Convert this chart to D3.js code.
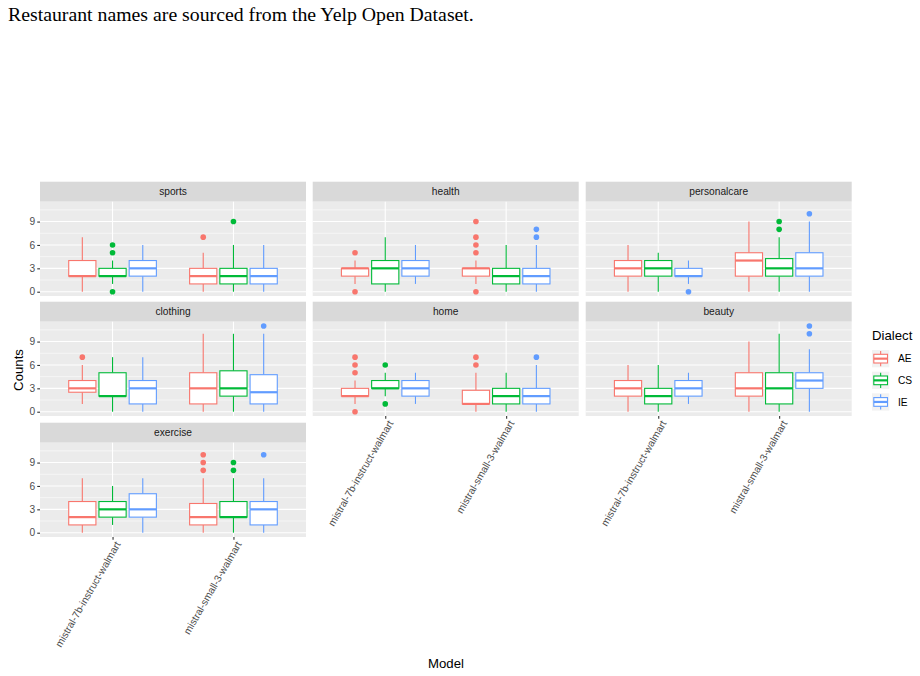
<!DOCTYPE html>
<html>
<head>
<meta charset="utf-8">
<script src="https://cdn.jsdelivr.net/npm/d3@7"></script>
<style>
  body { margin: 0; background: #fff; }
  svg { display: block; }
</style>
</head>
<body>
<svg id="chart" width="920" height="676"></svg>
<script>
// ---------------- data ----------------
const models = ["mistral-7b-instruct-walmart", "mistral-small-3-walmart"];
const dialects = ["AE", "CS", "IE"];
const dialectColors = ["#F8766D", "#00BA38", "#619CFF"];
const facets = ["sports", "health", "personalcare", "clothing", "home", "beauty", "exercise"];
const yTicks = [0, 3, 6, 9];
const yMinor = [1.5, 4.5, 7.5, 10.5];

// each row: [modelIndex, dialect, lowerWhisker, q1, median, q3, upperWhisker, outliers]
const sports = [
  [0, "AE", 0, 2, 2, 4, 7, []],
  [0, "CS", 1, 2, 2, 3, 4, [6, 5, 0]],
  [0, "IE", 0, 2, 3, 4, 6, []],
  [1, "AE", 0, 1, 2, 3, 5, [7]],
  [1, "CS", 0, 1, 2, 3, 6, [9]],
  [1, "IE", 0, 1, 2, 3, 6, []]
];
const health = [
  [0, "AE", 1, 2, 3, 3, 4, [5, 0]],
  [0, "CS", 0, 1, 3, 4, 7, []],
  [0, "IE", 1, 2, 3, 4, 6, []],
  [1, "AE", 1, 2, 3, 3, 4, [9, 7, 6, 5, 0]],
  [1, "CS", 0, 1, 2, 3, 6, []],
  [1, "IE", 0, 1, 2, 3, 6, [8, 7]]
];
const personalcare = [
  [0, "AE", 0, 2, 3, 4, 6, []],
  [0, "CS", 0, 2, 3, 4, 5, []],
  [0, "IE", 1, 2, 2, 3, 4, [0]],
  [1, "AE", 0, 2, 4, 5, 9, []],
  [1, "CS", 0, 2, 3, 4.25, 7, [9, 8]],
  [1, "IE", 0, 2, 3, 5, 9, [10]]
];
const clothing = [
  [0, "AE", 1, 2.5, 3, 4, 6, [7]],
  [0, "CS", 0, 2, 2, 5, 7, []],
  [0, "IE", 0, 1, 3, 4, 7, []],
  [1, "AE", 0, 1, 3, 5, 10, []],
  [1, "CS", 0, 2, 3, 5.25, 10, []],
  [1, "IE", 0, 1, 2.5, 4.75, 10, [11]]
];
const home = [
  [0, "AE", 1, 2, 2, 3, 4, [7, 6, 5, 0]],
  [0, "CS", 2, 3, 3, 4, 5, [6, 1]],
  [0, "IE", 1, 2, 3, 4, 5, []],
  [1, "AE", 0, 1, 1, 2.75, 5, [7, 6]],
  [1, "CS", 0, 1, 2, 3, 5, []],
  [1, "IE", 0, 1, 2, 3, 6, [7]]
];
const beauty = [
  [0, "AE", 0, 2, 3, 4, 6, []],
  [0, "CS", 0, 1, 2, 3, 6, []],
  [0, "IE", 1, 2, 3, 4, 5, []],
  [1, "AE", 0, 2, 3, 5, 9, []],
  [1, "CS", 0, 1, 3, 5, 10, []],
  [1, "IE", 0, 3, 4, 5, 8, [10, 11]]
];
const exercise = [
  [0, "AE", 0, 1, 2, 4, 7, []],
  [0, "CS", 1, 2, 3, 4, 6, []],
  [0, "IE", 0, 2, 3, 5, 7, []],
  [1, "AE", 0, 1, 2, 3.75, 7, [10, 9, 8]],
  [1, "CS", 0, 2, 2, 4, 7, [9, 8]],
  [1, "IE", 0, 1, 3, 4, 7, [10]]
];
const facetData = [sports, health, personalcare, clothing, home, beauty, exercise];

// ---------------- layout ----------------
const svg = d3.select("#chart");
const font = "'Liberation Sans', Arial, Helvetica, sans-serif";
const colX = [40, 312.7, 585.7];
const rowTop = [181.7, 301.7, 422.7];
const panelW = 266, stripH = 20, panelH = 94.3;
const tickFont = 10.2, titleFont = 13.2;

svg.append("text")
  .attr("x", 8).attr("y", 21)
  .attr("font-family", "'Liberation Serif', 'Times New Roman', serif")
  .attr("font-size", 19.8)
  .attr("fill", "#000")
  .text("Restaurant names are sourced from the Yelp Open Dataset.");

const x = d3.scalePoint().domain([0, 1]).range([0, panelW]).padding(0.6);
const step = x.step();
const dodge = d3.scaleBand().domain(dialects).range([-0.375 * step, 0.375 * step]);
const boxW = dodge.bandwidth() * 0.9;
const y = d3.scaleLinear().domain([-0.55, 11.55]).range([panelH, 0]);
const color = d3.scaleOrdinal().domain(dialects).range(dialectColors);

facets.forEach((name, i) => {
  const r = Math.floor(i / 3), c = i % 3;
  const g = svg.append("g").attr("transform", `translate(${colX[c]},${rowTop[r]})`);
  // strip
  g.append("rect").attr("width", panelW).attr("height", stripH).attr("fill", "#D9D9D9");
  g.append("text").attr("x", panelW / 2).attr("y", stripH / 2 + 3.6)
    .attr("text-anchor", "middle").attr("font-family", font).attr("font-size", tickFont)
    .attr("fill", "#1A1A1A").text(name);

  const p = g.append("g").attr("transform", `translate(0,${stripH})`);
  p.append("rect").attr("width", panelW).attr("height", panelH).attr("fill", "#EBEBEB");
  p.selectAll(".minor").data(yMinor).join("line")
    .attr("x1", 0).attr("x2", panelW).attr("y1", d => y(d)).attr("y2", d => y(d))
    .attr("stroke", "#fff").attr("stroke-width", 0.55);
  p.selectAll(".major").data(yTicks).join("line")
    .attr("x1", 0).attr("x2", panelW).attr("y1", d => y(d)).attr("y2", d => y(d))
    .attr("stroke", "#fff").attr("stroke-width", 1.1);
  p.selectAll(".vmajor").data(x.domain()).join("line")
    .attr("x1", d => x(d)).attr("x2", d => x(d)).attr("y1", 0).attr("y2", panelH)
    .attr("stroke", "#fff").attr("stroke-width", 1.1);

  const rows = facetData[i];
  const bg = p.selectAll(".box").data(rows).join("g")
    .attr("transform", d => `translate(${x(d[0]) + dodge(d[1]) + dodge.bandwidth() / 2},0)`);
  // whiskers
  bg.append("line").attr("x1", 0).attr("x2", 0)
    .attr("y1", d => y(d[6])).attr("y2", d => y(d[5]))
    .attr("stroke", d => color(d[1])).attr("stroke-width", 1.1);
  bg.append("line").attr("x1", 0).attr("x2", 0)
    .attr("y1", d => y(d[3])).attr("y2", d => y(d[2]))
    .attr("stroke", d => color(d[1])).attr("stroke-width", 1.1);
  // box
  bg.append("rect").attr("x", -boxW / 2).attr("width", boxW)
    .attr("y", d => y(d[5])).attr("height", d => y(d[3]) - y(d[5]))
    .attr("fill", "#fff").attr("stroke", d => color(d[1])).attr("stroke-width", 1.1);
  // median
  bg.append("line").attr("x1", -boxW / 2).attr("x2", boxW / 2)
    .attr("y1", d => y(d[4])).attr("y2", d => y(d[4]))
    .attr("stroke", d => color(d[1])).attr("stroke-width", 2.2);
  // outliers
  bg.each(function (d) {
    d3.select(this).selectAll("circle").data(d[7]).join("circle")
      .attr("cx", 0).attr("cy", v => y(v)).attr("r", 2.8)
      .attr("fill", color(d[1]));
  });

  // y axis for first column
  if (c === 0) {
    const ay = p.append("g").call(d3.axisLeft(y).tickValues(yTicks).tickSize(2.75).tickPadding(2.2));
    ay.select(".domain").remove();
    ay.selectAll(".tick line").attr("stroke", "#333").attr("stroke-width", 1.1);
    ay.selectAll(".tick text").attr("font-family", font).attr("font-size", tickFont).attr("fill", "#4D4D4D");
  }
  // x axis for bottom panel of each column
  const isBottom = (r === 2 && c === 0) || (r === 1 && c > 0);
  if (isBottom) {
    const ax = p.append("g").attr("transform", `translate(0,${panelH})`)
      .call(d3.axisBottom(x).tickSize(2.75).tickPadding(2.2).tickFormat(d => models[d]));
    ax.select(".domain").remove();
    ax.selectAll(".tick line").attr("stroke", "#333").attr("stroke-width", 1.1);
    ax.selectAll(".tick text")
      .attr("font-family", font).attr("font-size", tickFont).attr("fill", "#4D4D4D")
      .attr("text-anchor", "end").attr("dy", null).attr("y", null)
      .attr("transform", "translate(8,7) rotate(-60)");
  }
});

// axis titles
svg.append("text").attr("transform", "translate(23,370) rotate(-90)")
  .attr("text-anchor", "middle").attr("font-family", font).attr("font-size", titleFont).attr("fill", "#000")
  .text("Counts");
svg.append("text").attr("x", 446).attr("y", 668)
  .attr("text-anchor", "middle").attr("font-family", font).attr("font-size", titleFont).attr("fill", "#000")
  .text("Model");

// legend
const lg = svg.append("g").attr("transform", "translate(872,0)");
lg.append("text").attr("x", 0).attr("y", 340).attr("font-family", font).attr("font-size", titleFont)
  .attr("fill", "#000").text("Dialect");
const keyY = [350, 371.7, 393.3];
const keys = lg.selectAll(".key").data(dialects).join("g")
  .attr("transform", (d, i) => `translate(0,${keyY[i]})`);
keys.append("rect").attr("width", 17.3).attr("height", 17.3).attr("fill", "#F2F2F2");
keys.append("line").attr("x1", 8.65).attr("x2", 8.65).attr("y1", 1).attr("y2", 16.3)
  .attr("stroke", d => color(d)).attr("stroke-width", 1.1);
keys.append("rect").attr("x", 1.8).attr("y", 4.3).attr("width", 13.7).attr("height", 8.7)
  .attr("fill", "#fff").attr("stroke", d => color(d)).attr("stroke-width", 1.1);
keys.append("line").attr("x1", 1.8).attr("x2", 15.5).attr("y1", 8.65).attr("y2", 8.65)
  .attr("stroke", d => color(d)).attr("stroke-width", 2.2);
keys.append("text").attr("x", 26).attr("y", 12.4).attr("font-family", font).attr("font-size", tickFont)
  .attr("fill", "#000").text(d => d);
</script>
</body>
</html>
